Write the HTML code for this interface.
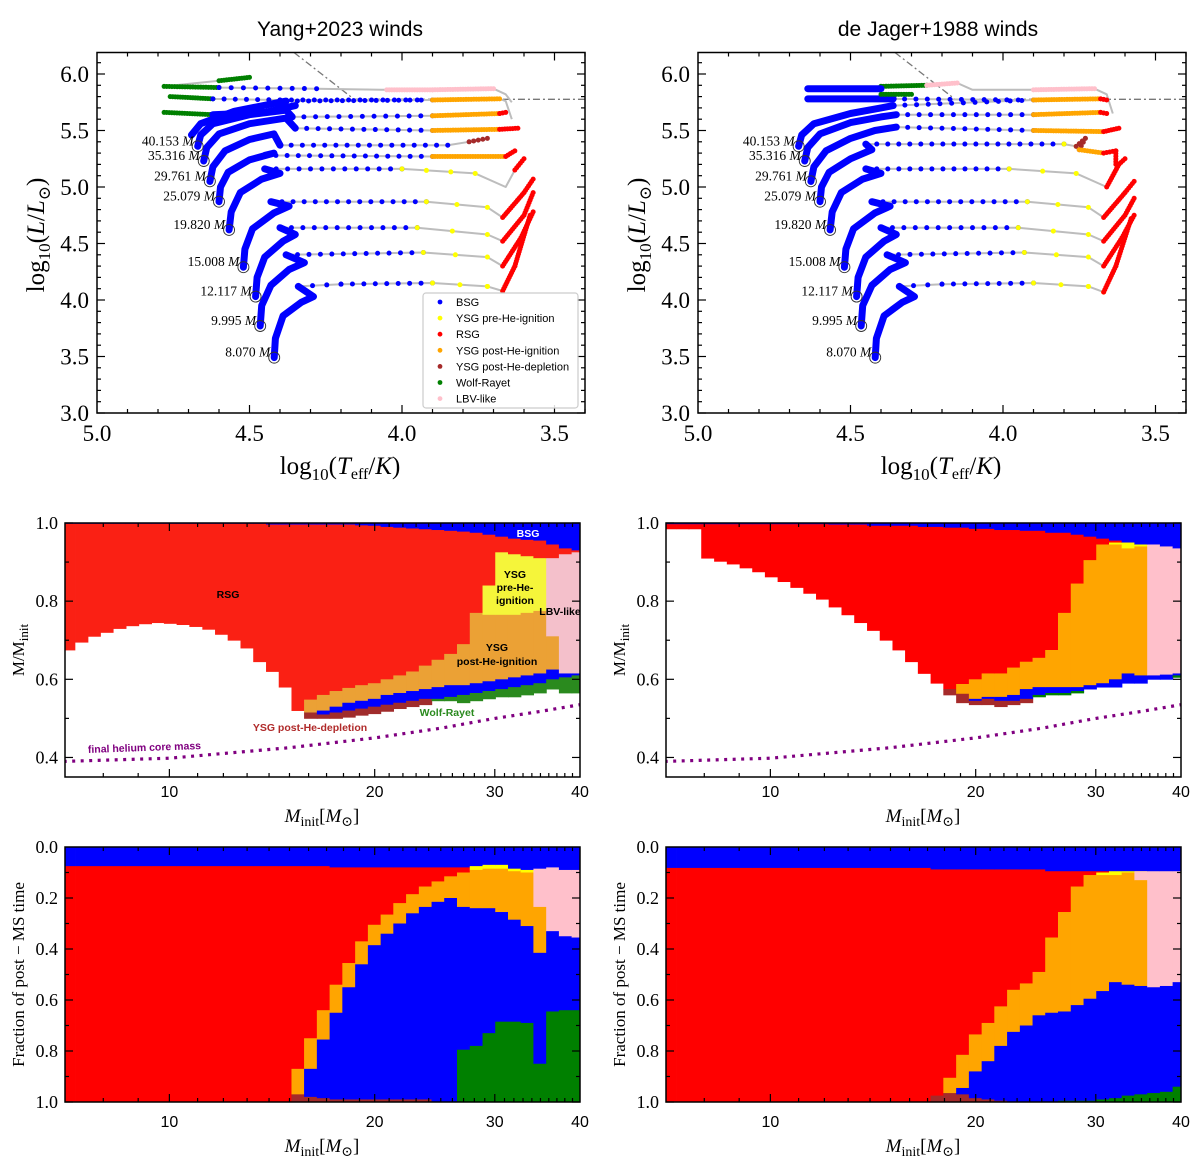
<!DOCTYPE html>
<html><head><meta charset="utf-8"><style>
html,body{margin:0;padding:0;background:#fff;}
svg{display:block;}
</style></head><body>
<svg id="fig" xmlns="http://www.w3.org/2000/svg" width="1200" height="1170" viewBox="0 0 1200 1170">
<rect x="0" y="0" width="1200" height="1170" fill="#fff"/>
<text x="340" y="36" font-family="Liberation Sans, DejaVu Sans, sans-serif" font-size="21" text-anchor="middle">Yang+2023 winds</text>
<text x="938" y="36" font-family="Liberation Sans, DejaVu Sans, sans-serif" font-size="21" text-anchor="middle">de Jager+1988 winds</text>
</svg>
<script>
const N = null;
// ---------- HR diagram data ----------
const zamsLabels = ["8.070","9.995","12.117","15.008","19.820","25.079","29.761","35.316","40.153"];
const yangTracks = [
 [[4.419,3.49,''],[4.415,3.66,'ms'],[4.39,3.86,'ms'],[4.33,3.98,'ms'],[4.29,4.03,'ms'],[4.34,4.12,'ms'],[4.20,4.14,'b'],[3.90,4.15,'b'],[3.72,4.12,'y'],[3.67,4.08,'y'],[3.63,4.30,'r'],[3.58,4.75,'r']],
 [[4.465,3.77,''],[4.46,3.95,'ms'],[4.43,4.13,'ms'],[4.37,4.27,'ms'],[4.32,4.33,'ms'],[4.38,4.40,'ms'],[3.93,4.42,'b'],[3.72,4.38,'y'],[3.67,4.30,'n'],[3.61,4.55,'r'],[3.57,4.78,'r']],
 [[4.48,4.03,''],[4.475,4.20,'ms'],[4.45,4.38,'ms'],[4.39,4.52,'ms'],[4.35,4.58,'ms'],[4.40,4.64,'ms'],[3.95,4.64,'b'],[3.72,4.58,'y'],[3.67,4.52,'n'],[3.60,4.75,'r'],[3.57,4.95,'r']],
 [[4.52,4.29,''],[4.515,4.45,'ms'],[4.49,4.63,'ms'],[4.42,4.77,'ms'],[4.37,4.83,'ms'],[4.43,4.87,'ms'],[3.92,4.87,'b'],[3.72,4.82,'y'],[3.67,4.73,'n'],[3.60,4.95,'r'],[3.57,5.07,'r']],
 [[4.567,4.62,''],[4.56,4.78,'ms'],[4.53,4.95,'ms'],[4.46,5.07,'ms'],[4.40,5.12,'ms'],[4.45,5.16,'ms'],[4.00,5.16,'b'],[3.76,5.12,'y'],[3.66,5.00,'n'],[3.63,5.15,'n'],[3.60,5.25,'r']],
 [[4.60,4.87,''],[4.595,5.00,'ms'],[4.57,5.13,'ms'],[4.50,5.24,'ms'],[4.42,5.30,'ms'],[4.45,5.28,'ms'],[3.90,5.27,'b'],[3.66,5.27,'o'],[3.63,5.32,'r']],
 [[4.63,5.05,''],[4.62,5.18,'ms'],[4.58,5.32,'ms'],[4.50,5.42,'ms'],[4.42,5.47,'ms'],[4.40,5.37,'ms'],[3.85,5.37,'b'],[3.78,5.40,'n'],[3.72,5.43,'w']],
 [[4.65,5.23,''],[4.64,5.35,'ms'],[4.60,5.47,'ms'],[4.50,5.56,'ms'],[4.38,5.61,'ms'],[4.35,5.52,'ms'],[3.90,5.50,'b'],[3.68,5.51,'o'],[3.62,5.52,'r']],
 [[4.67,5.36,''],[4.66,5.46,'ms'],[4.62,5.56,'ms'],[4.50,5.64,'ms'],[4.38,5.68,'ms'],[4.36,5.62,'ms'],[3.90,5.63,'b'],[3.68,5.65,'o'],[3.66,5.66,'r']],
 [[4.69,5.46,''],[4.66,5.56,'ms'],[4.55,5.67,'ms'],[4.38,5.76,'ms'],[3.90,5.77,'b'],[3.68,5.78,'o'],[3.66,5.76,'n'],[3.64,5.60,'n']],
 [[4.78,5.66,''],[4.62,5.64,'g'],[4.45,5.66,'ms'],[4.35,5.72,'ms']],
 [[4.76,5.80,''],[4.62,5.78,'g'],[4.40,5.77,'b'],[3.95,5.77,'b']],
 [[4.78,5.89,''],[4.60,5.88,'g'],[4.28,5.87,'b'],[4.05,5.86,'n'],[3.90,5.86,'p'],[3.70,5.87,'p'],[3.66,5.82,'n'],[3.64,5.75,'n']],
 [[4.78,5.89,''],[4.60,5.94,'n'],[4.50,5.97,'g']]
];
const jagerTracks = [
 [[4.419,3.49,''],[4.415,3.66,'ms'],[4.39,3.86,'ms'],[4.33,3.98,'ms'],[4.29,4.03,'ms'],[4.34,4.12,'ms'],[4.20,4.14,'b'],[3.90,4.15,'b'],[3.72,4.12,'y'],[3.67,4.07,'y'],[3.63,4.30,'r'],[3.58,4.72,'r']],
 [[4.465,3.77,''],[4.46,3.95,'ms'],[4.43,4.13,'ms'],[4.37,4.27,'ms'],[4.32,4.33,'ms'],[4.38,4.40,'ms'],[3.93,4.42,'b'],[3.72,4.38,'y'],[3.67,4.30,'n'],[3.61,4.55,'r'],[3.57,4.75,'r']],
 [[4.48,4.03,''],[4.475,4.20,'ms'],[4.45,4.38,'ms'],[4.39,4.52,'ms'],[4.35,4.58,'ms'],[4.40,4.64,'ms'],[3.95,4.64,'b'],[3.72,4.58,'y'],[3.67,4.52,'n'],[3.60,4.75,'r'],[3.57,4.90,'r']],
 [[4.52,4.29,''],[4.515,4.45,'ms'],[4.49,4.63,'ms'],[4.42,4.77,'ms'],[4.37,4.83,'ms'],[4.43,4.87,'ms'],[3.92,4.87,'b'],[3.72,4.82,'y'],[3.67,4.73,'n'],[3.60,4.95,'r'],[3.57,5.05,'r']],
 [[4.567,4.62,''],[4.56,4.78,'ms'],[4.53,4.95,'ms'],[4.46,5.07,'ms'],[4.40,5.12,'ms'],[4.45,5.16,'ms'],[3.98,5.16,'b'],[3.76,5.12,'y'],[3.66,5.00,'n'],[3.62,5.20,'r'],[3.60,5.25,'r']],
 [[4.60,4.87,''],[4.595,5.00,'ms'],[4.57,5.13,'ms'],[4.50,5.25,'ms'],[4.43,5.33,'ms'],[4.45,5.38,'ms'],[3.80,5.38,'b'],[3.76,5.36,'y'],[3.73,5.43,'w'],[3.75,5.33,'w'],[3.67,5.30,'o'],[3.63,5.32,'r'],[3.63,5.20,'r']],
 [[4.63,5.05,''],[4.62,5.18,'ms'],[4.58,5.32,'ms'],[4.50,5.43,'ms'],[4.42,5.50,'ms'],[4.35,5.53,'ms'],[3.90,5.50,'b'],[3.67,5.49,'o'],[3.62,5.52,'r']],
 [[4.65,5.23,''],[4.64,5.35,'ms'],[4.60,5.47,'ms'],[4.50,5.57,'ms'],[4.40,5.62,'ms'],[4.35,5.64,'ms'],[3.90,5.64,'b'],[3.68,5.66,'o'],[3.66,5.65,'r']],
 [[4.67,5.36,''],[4.66,5.46,'ms'],[4.62,5.56,'ms'],[4.50,5.65,'ms'],[4.40,5.70,'ms'],[4.36,5.72,'ms'],[3.90,5.77,'b'],[3.68,5.78,'o'],[3.66,5.77,'r']],
 [[4.64,5.78,''],[4.36,5.78,'ms'],[3.95,5.77,'b']],
 [[4.64,5.87,''],[4.40,5.87,'ms'],[4.40,5.89,'g'],[4.25,5.90,'g'],[4.15,5.92,'p'],[4.10,5.86,'n'],[3.90,5.86,'n'],[3.70,5.87,'p'],[3.66,5.82,'n'],[3.64,5.65,'n']],
 [[4.40,5.82,''],[4.30,5.82,'g']]
];
const hdLimitT = [4.354, 4.157, 3.40];
const hdLimitL = [6.19, 5.776, 5.776];
const legendLabels = ["BSG","YSG pre-He-ignition","RSG","YSG post-He-ignition","YSG post-He-depletion","Wolf-Rayet","LBV-like"];

// ---------- stacked bars data ----------
const binMass = [7.11,7.43,7.75,8.09,8.45,8.82,9.21,9.61,10.03,10.47,10.93,11.42,11.92,12.44,12.99,13.56,14.16,14.78,15.43,16.10,16.81,17.55,18.32,19.13,19.97,20.85,21.76,22.72,23.72,24.76,25.84,26.98,28.17,29.41,30.70,32.05,33.45,34.92,36.46,38.06,39.73];
const layerNames = ["blue","red","yellow","pink","orange","blue2","green","brown"];
const yM_blue  = [.998,.998,.998,.998,.998,.998,.998,.998,.998,.998,.998,.998,.998,.998,.998,.998,.996,.996,.996,.996,.996,.996,.996,.994,.993,.99,.988,.986,.984,.982,.98,.978,.975,.97,.965,.96,.957,.955,.945,.935,.93];
const yM_red   = [.675,.695,.71,.72,.73,.737,.742,.745,.743,.74,.735,.728,.715,.70,.68,.645,.62,.58,.52,.548,.56,.57,.578,.585,.59,.60,.61,.62,.635,.65,.665,.69,.77,.84,.925,.92,.915,.91,.91,.92,.925];
const yM_yel   = [N,N,N,N,N,N,N,N,N,N,N,N,N,N,N,N,N,N,N,N,N,N,N,N,N,N,N,N,N,N,N,N,N,.765,.765,.765,.77,.775,N,N,N];
const yM_pink  = [N,N,N,N,N,N,N,N,N,N,N,N,N,N,N,N,N,N,N,N,N,N,N,N,N,N,N,N,N,N,N,N,N,N,N,N,N,N,.71,.615,.615];
const yM_orng  = [N,N,N,N,N,N,N,N,N,N,N,N,N,N,N,N,N,N,N,.515,.52,.53,.54,.545,.55,.56,.565,.57,.575,.58,.585,.585,.59,.595,.60,.605,.61,.615,.625,N,N];
const yM_blue2 = [N,N,N,N,N,N,N,N,N,N,N,N,N,N,N,N,N,N,N,.515,.51,.515,.52,.525,.53,.535,.54,.545,.55,.55,.555,.56,.565,.57,.575,.58,.585,.59,.60,.605,.61];
const yM_green = [N,N,N,N,N,N,N,N,N,N,N,N,N,N,N,N,N,N,N,N,N,N,N,N,N,N,N,N,N,.545,.545,.54,.545,.55,.555,.555,.56,.565,.575,.565,.565];
const yM_brown = [N,N,N,N,N,N,N,N,N,N,N,N,N,N,N,N,N,N,N,.50,.50,.50,.503,.508,.512,.518,.525,.53,.535,N,N,N,N,N,N,N,N,N,N,N,N];
const yB_blue  = [.075,.075,.075,.075,.075,.075,.075,.075,.075,.075,.075,.075,.075,.075,.075,.075,.075,.075,.075,.075,.075,.08,.08,.08,.08,.08,.08,.08,.08,.08,.08,.08,.075,.07,.07,.085,.09,.085,.08,.09,.09];
const yB_red   = [1,1,1,1,1,1,1,1,1,1,1,1,1,1,1,1,1,1,.87,.75,.64,.54,.455,.37,.305,.265,.22,.185,.155,.135,.115,.10,N,N,N,N,N,N,N,N,N];
const yB_yel   = [N,N,N,N,N,N,N,N,N,N,N,N,N,N,N,N,N,N,N,N,N,N,N,N,N,N,N,N,N,N,N,N,.09,.085,.085,.095,.10,N,N,N,N];
const yB_pink  = [N,N,N,N,N,N,N,N,N,N,N,N,N,N,N,N,N,N,N,N,N,N,N,N,N,N,N,N,N,N,N,N,N,N,N,N,N,.235,.33,.35,.355];
const yB_orng  = [N,N,N,N,N,N,N,N,N,N,N,N,N,N,N,N,N,N,.97,.87,.755,.65,.55,.46,.385,.34,.30,.26,.235,.215,.20,.235,.24,.24,.255,.285,.31,.415,N,N,N];
const yB_blue2 = [N,N,N,N,N,N,N,N,N,N,N,N,N,N,N,N,N,N,N,.98,.985,.99,.99,.99,.99,.99,.99,.99,.99,1,1,.795,.78,.73,.685,.685,.69,.85,.645,.64,.64];
const yB_green = [N,N,N,N,N,N,N,N,N,N,N,N,N,N,N,N,N,N,N,N,N,N,N,N,N,N,N,N,N,N,N,1,1,1,1,1,1,1,1,1,1];
const yB_brown = [N,N,N,N,N,N,N,N,N,N,N,N,N,N,N,N,N,N,1,1,1,1,1,1,1,1,1,1,1,N,N,N,N,N,N,N,N,N,N,N,N];
const jM_blue  = [.997,.997,.997,.997,.997,.997,.997,.997,.997,.997,.997,.997,.997,.996,.996,.996,.993,.993,.993,.993,.99,.99,.988,.988,.985,.985,.982,.982,.98,.98,.975,.975,.97,.965,.96,.955,.95,.945,.945,.94,.935];
const jM_red   = [.985,.985,.985,.91,.902,.895,.885,.875,.862,.85,.835,.82,.805,.785,.765,.745,.725,.70,.675,.645,.615,.59,.575,.588,.60,.615,.615,.63,.645,.655,.675,.77,.845,.905,.945,.95,.95,.945,N,N,N];
const jM_yel   = [N,N,N,N,N,N,N,N,N,N,N,N,N,N,N,N,N,N,N,N,N,N,N,N,N,N,N,N,N,N,N,N,N,N,N,.945,.935,.94,N,N,N];
const jM_pink  = [N,N,N,N,N,N,N,N,N,N,N,N,N,N,N,N,N,N,N,N,N,N,N,N,N,N,N,N,N,N,N,N,N,N,N,N,N,N,.61,.612,.615];
const jM_orng  = [N,N,N,N,N,N,N,N,N,N,N,N,N,N,N,N,N,N,N,N,N,N,N,.563,.55,.555,.555,.56,.575,.58,.58,.58,.58,.585,.59,.60,.615,.61,N,N,N];
const jM_blue2 = [N,N,N,N,N,N,N,N,N,N,N,N,N,N,N,N,N,N,N,N,N,N,N,N,.545,.55,.545,.545,.55,.56,.565,.565,.57,.575,.58,.58,.59,.59,.60,.60,.61];
const jM_green = [N,N,N,N,N,N,N,N,N,N,N,N,N,N,N,N,N,N,N,N,N,N,N,N,N,N,N,N,N,.555,.56,.56,.565,N,N,N,N,N,N,N,.605];
const jM_brown = [N,N,N,N,N,N,N,N,N,N,N,N,N,N,N,N,N,N,N,N,N,N,.56,.54,.535,.535,.53,.535,.54,N,N,N,N,N,N,N,N,N,N,N,N];
const jB_blue  = [.082,.082,.082,.082,.082,.082,.082,.082,.082,.082,.082,.082,.082,.082,.082,.082,.082,.082,.082,.082,.082,.088,.088,.088,.088,.088,.088,.088,.088,.088,.095,.095,.095,.095,.095,.095,.095,.095,.095,.095,.095];
const jB_red   = [1,1,1,1,1,1,1,1,1,1,1,1,1,1,1,1,1,1,1,1,1,.975,.905,.815,.735,.69,.625,.56,.535,.49,.355,.255,.155,.11,.10,N,N,N,N,N,N];
const jB_yel   = [N,N,N,N,N,N,N,N,N,N,N,N,N,N,N,N,N,N,N,N,N,N,N,N,N,N,N,N,N,N,N,N,N,N,.11,.11,.10,.095,N,N,N];
const jB_pink  = [N,N,N,N,N,N,N,N,N,N,N,N,N,N,N,N,N,N,N,N,N,N,N,N,N,N,N,N,N,N,N,N,N,N,N,N,N,.13,.55,.545,.53];
const jB_orng  = [N,N,N,N,N,N,N,N,N,N,N,N,N,N,N,N,N,N,N,N,N,N,.965,.945,.88,.84,.78,.725,.70,.66,.65,.645,.62,.595,.565,.53,.54,.545,N,N,N];
const jB_blue2 = [N,N,N,N,N,N,N,N,N,N,N,N,N,N,N,N,N,N,N,N,N,N,N,.97,.985,.99,.995,1,1,1,1,.995,.995,.995,.99,.985,.975,.97,.965,.96,.94];
const jB_green = [N,N,N,N,N,N,N,N,N,N,N,N,N,N,N,N,N,N,N,N,N,N,N,N,N,N,N,N,N,N,N,1,1,1,1,1,1,1,1,1,1];
const jB_brown = [N,N,N,N,N,N,N,N,N,N,N,N,N,N,N,N,N,N,N,N,N,1,1,1,1,1,1,N,N,N,N,N,N,N,N,N,N,N,N,N,N];
const coreMass = [7,10,15,20,25,30,35,40];
const coreFrac = [0.39,0.398,0.425,0.45,0.475,0.50,0.518,0.535];

const svg = document.getElementById('fig');
const NS = 'http://www.w3.org/2000/svg';
function el(tag, attrs, parent){ const e=document.createElementNS(NS,tag); for(const k in attrs) e.setAttribute(k,attrs[k]); (parent||svg).appendChild(e); return e; }
const SERIF = 'Liberation Serif, DejaVu Serif, serif';
const SANS = 'Liberation Sans, DejaVu Sans, sans-serif';

function ticks(g, x0,x1,y0,y1, xs, ys){
  for(const t of xs){ const L=t.major?8:4;
    el('line',{x1:t.p,x2:t.p,y1:y1,y2:y1-L,stroke:'#000','stroke-width':1.2},g);
    el('line',{x1:t.p,x2:t.p,y1:y0,y2:y0+L,stroke:'#000','stroke-width':1.2},g); }
  for(const t of ys){ const L=t.major?8:4;
    el('line',{x1:x0,x2:x0+L,y1:t.p,y2:t.p,stroke:'#000','stroke-width':1.2},g);
    el('line',{x1:x1,x2:x1-L,y1:t.p,y2:t.p,stroke:'#000','stroke-width':1.2},g); }
}

const typeColor = {b:'#0000ff',y:'#ffff00',r:'#ff0000',o:'#ffa500',p:'#ffc0cb',g:'#008000',w:'#a52a2a'};
const typeSpacing = {b:11,y:24,r:2.5,o:2.5,p:2.5,g:2.5,w:4};
function hrPanel(off, tracks, name, withLegend){
  const g = el('g',{});
  
  
  const X0=97+off, X1=585+off, Y0=52.5, Y1=413;
  const xT = T => X0 + (5.0 - T)*305;
  const yL = L => Y1 - (L - 3.0)*113;
  const cp = el('clipPath',{id:'cl'+off},g); el('rect',{x:X0,y:Y0,width:X1-X0,height:Y1-Y0},cp);
  const pg = el('g',{'clip-path':'url(#cl'+off+')'},g);
  let d=''; hdLimitT.forEach((t,i)=>{ d+=(i?'L':'M')+xT(t)+' '+yL(hdLimitL[i]); });
  const hd = el('path',{d:d,fill:'none',stroke:'#777','stroke-width':1.3,'stroke-dasharray':'7 3 2 3'},pg);
  
  
  tracks.forEach((tr,k)=>{
    let dd=''; tr.forEach((p,i)=>{ dd+=(i?'L':'M')+xT(p[0]).toFixed(1)+' '+yL(p[1]).toFixed(1); });
    const pl = el('path',{d:dd,fill:'none',stroke:'#bdbdbd','stroke-width':2,'stroke-linejoin':'round'},pg);
    
    
  });
  tracks.forEach((tr,k)=>{
    let msPath='';
    for(let i=1;i<tr.length;i++){
      const a=tr[i-1], b=tr[i], ty=b[2];
      const ax=xT(a[0]), ay=yL(a[1]), bx=xT(b[0]), by=yL(b[1]);
      if(ty==='ms'){
        msPath += (msPath?'':'M'+ax.toFixed(1)+' '+ay.toFixed(1)) + 'L'+bx.toFixed(1)+' '+by.toFixed(1);
      } else if(typeColor[ty]){
        const len=Math.hypot(bx-ax,by-ay), n=Math.max(1,Math.floor(len/typeSpacing[ty]));
        for(let j=0;j<=n;j++){ const t=j/n;
          el('circle',{cx:ax+(bx-ax)*t,cy:ay+(by-ay)*t,r:2.5,fill:typeColor[ty]},pg); }
      }
    }
    if(msPath){
      const mp = el('path',{d:msPath,fill:'none',stroke:'#0000ff','stroke-width':7,'stroke-linecap':'round','stroke-linejoin':'round'},pg);
      
      
    }
  });
  for(let k=0;k<zamsLabels.length;k++){
    const p=tracks[k][0], cx=xT(p[0]), cy=yL(p[1]);
    const c = el('circle',{cx:cx,cy:cy,r:5.5,fill:'none',stroke:'#333','stroke-width':0.9},g);
    
    
    const t = el('text',{x:cx-4,y:cy-1,'font-family':SERIF,'font-size':13.5,'text-anchor':'end'},g);
    
    
    t.textContent = zamsLabels[k]+' ';
    const ts = el('tspan',{'font-style':'italic'},t); ts.textContent='M';
  }
  el('rect',{x:X0,y:Y0,width:X1-X0,height:Y1-Y0,fill:'none',stroke:'#000','stroke-width':1.5},g);
  const xs=[], ys=[];
  for(let v=49; v>=34; v--){ xs.push({p:xT(v/10),major:v%5===0}); }
  for(let v=30; v<=61; v++){ ys.push({p:yL(v/10),major:v%5===0}); }
  ticks(g,X0,X1,Y0,Y1,xs,ys);
  [5.0,4.5,4.0,3.5].forEach(v=>{ const t=el('text',{x:xT(v),y:441,'font-family':SERIF,'font-size':23,'text-anchor':'middle'},g); t.textContent=v.toFixed(1);
      });
  [3.0,3.5,4.0,4.5,5.0,5.5,6.0].forEach(v=>{ const t=el('text',{x:X0-8,y:yL(v)+8,'font-family':SERIF,'font-size':23,'text-anchor':'end'},g); t.textContent=v.toFixed(1);
      });
  const xl = el('text',{x:340+off,y:474,'font-family':SERIF,'font-size':25,'text-anchor':'middle'},g);
   
  xl.innerHTML = 'log<tspan font-size="17" dy="6">10</tspan><tspan dy="-6">(</tspan><tspan font-style="italic">T</tspan><tspan font-size="16" dy="5">eff</tspan><tspan dy="-5">/</tspan><tspan font-style="italic">K</tspan>)';
  const yl = el('text',{x:0,y:0,'font-family':SERIF,'font-size':25,'text-anchor':'middle',transform:'translate('+(44+off)+',235) rotate(-90)'},g);
   
  yl.innerHTML = 'log<tspan font-size="17" dy="6">10</tspan><tspan dy="-6">(</tspan><tspan font-style="italic">L</tspan>/<tspan font-style="italic">L</tspan><tspan font-size="17" dy="6">⊙</tspan><tspan dy="-6">)</tspan>';
  if(withLegend){
    const lg = el('g',{});  
    el('rect',{x:423+off,y:293,width:155,height:115,rx:3,fill:'#fff','fill-opacity':0.85,stroke:'#ccc','stroke-width':1.2},lg);
    const cols=['#0000ff','#ffff00','#ff0000','#ffa500','#a52a2a','#008000','#ffc0cb'];
    legendLabels.forEach((lab,i)=>{
      const y=302+i*16.1;
      const m=el('circle',{cx:440+off,cy:y,r:2.4,fill:cols[i]},lg);
       
      const t=el('text',{x:456+off,y:y+4,'font-family':SANS,'font-size':11},lg); t.textContent=lab;
       
    });
  }
}
hrPanel(0, yangTracks, 'hr-diagram-yang', true);
hrPanel(601, jagerTracks, 'hr-diagram-dejager', false);

const LOGMIN=Math.log10(7.03), LOGMAX=Math.log10(40);
function stackPanel(off, top, bot, vmin, vmax, inverted, layers, cols, name, ylabelHtml, yticksMaj, xlabelY, tickY){
  const g = el('g',{});
  
  
  const X0=65+off, X1=580+off;
  const xm = m => X0 + (Math.log10(m)-LOGMIN)/(LOGMAX-LOGMIN)*(X1-X0);
  const yv = inverted ? (v => top + (v-vmin)/(vmax-vmin)*(bot-top)) : (v => bot - (v-vmin)/(vmax-vmin)*(bot-top));
  const cp = el('clipPath',{id:'cs'+name},g); el('rect',{x:X0,y:top,width:X1-X0,height:bot-top},cp);
  const pg = el('g',{'clip-path':'url(#cs'+name+')'},g);
  binMass.forEach((m,j)=>{
    const xa = xm(m/Math.pow(10,0.00934)), xb = xm(m*Math.pow(10,0.00934));
    let cur = inverted ? 0 : 1;
    layers.forEach((arr,li)=>{
      const v = arr[j];
      if(v===null || v===undefined) return;
      const y1=yv(cur), y2=yv(v);
      const r = el('rect',{x:xa,y:Math.min(y1,y2),width:xb-xa+0.6,height:Math.abs(y2-y1)+0.4,fill:cols[li]},pg);
      
      
      cur = v;
    });
  });
  if(!inverted){
    let d=''; coreMass.forEach((m,i)=>{ d+=(i?'L':'M')+xm(m).toFixed(1)+' '+yv(coreFrac[i]).toFixed(1); });
    const cl = el('path',{d:d,fill:'none',stroke:'#800080','stroke-width':3.2,'stroke-dasharray':'3 5.5'},pg);
    
    
  }
  el('rect',{x:X0,y:top,width:X1-X0,height:bot-top,fill:'none',stroke:'#000','stroke-width':1.5},g);
  const xs=[], ys=[];
  for(let m=8;m<=39;m++) xs.push({p:xm(m),major:m%10===0});
  for(let v=Math.ceil(vmin*10+1e-6); v<=Math.floor(vmax*10+1e-6); v++) ys.push({p:yv(v/10),major:yticksMaj.some(q=>Math.abs(q-v/10)<1e-6)});
  ticks(g,X0,X1,top,bot,xs,ys);
  [10,20,30,40].forEach(m=>{ const t=el('text',{x:xm(m),y:tickY,'font-family':SANS,'font-size':16,'text-anchor':'middle'},g); t.textContent=m;
      });
  yticksMaj.forEach(v=>{ const t=el('text',{x:X0-7,y:yv(v)+6,'font-family':SERIF,'font-size':18,'text-anchor':'end'},g); t.textContent=v.toFixed(1);
      });
  const xl = el('text',{x:322+off,y:xlabelY,'font-family':SERIF,'font-size':19,'text-anchor':'middle'},g);
   
  xl.innerHTML = '<tspan font-style="italic">M</tspan><tspan font-size="14" dy="4">init</tspan><tspan dy="-4">[</tspan><tspan font-style="italic">M</tspan><tspan font-size="14" dy="4">⊙</tspan><tspan dy="-4">]</tspan>';
  const yl = el('text',{x:0,y:0,'font-family':SERIF,'font-size':17,'text-anchor':'middle',transform:'translate('+(24+off)+','+((top+bot)/2)+') rotate(-90)'},g);
   
  yl.innerHTML = ylabelHtml;
  return {xm,yv,g};
}
const colsA=['#0000ff','#fa2014','#f5f53a','#f4c0cb','#eba135','#0000ff','#2a8a1e','#a02c2c'];
const colsB=['#0000ff','#ff0000','#ffff00','#ffc0cb','#ffa500','#0000ff','#008000','#a52a2a'];
const MLAB='M/M<tspan font-size="13" dy="4">init</tspan>';
const FLAB='Fraction  of  post <tspan>− MS time</tspan>';
const pA = stackPanel(0,523,777,0.35,1.0,false,[yM_blue,yM_red,yM_yel,yM_pink,yM_orng,yM_blue2,yM_green,yM_brown],colsA,'mass-fraction-yang',MLAB,[0.4,0.6,0.8,1.0],822,797);
stackPanel(601,523,777,0.35,1.0,false,[jM_blue,jM_red,jM_yel,jM_pink,jM_orng,jM_blue2,jM_green,jM_brown],colsB,'mass-fraction-dejager',MLAB,[0.4,0.6,0.8,1.0],822,797);
stackPanel(0,847,1102,0,1,true,[yB_blue,yB_red,yB_yel,yB_pink,yB_orng,yB_blue2,yB_green,yB_brown],colsB,'time-fraction-yang',FLAB,[0,0.2,0.4,0.6,0.8,1.0],1152,1127);
stackPanel(601,847,1102,0,1,true,[jB_blue,jB_red,jB_yel,jB_pink,jB_orng,jB_blue2,jB_green,jB_brown],colsB,'time-fraction-dejager',FLAB,[0,0.2,0.4,0.6,0.8,1.0],1152,1127);

const notes = [
 ['BSG',528,537,'#fff','middle'],['RSG',228,598,'#000','middle'],
 ['YSG',515,578,'#000','middle'],['pre-He-',515,591,'#000','middle'],['ignition',515,604,'#000','middle'],
 ['LBV-like',560,615,'#000','middle'],
 ['YSG',497,651,'#000','middle'],['post-He-ignition',497,665,'#000','middle'],
 ['Wolf-Rayet',447,716,'#2a8a1e','middle'],['YSG post-He-depletion',310,731,'#b02a2a','middle']
];
notes.forEach(n=>{
  const t=el('text',{x:n[1],y:n[2],'font-family':SANS,'font-size':10.5,'font-weight':'bold',fill:n[3],'text-anchor':n[4]},pA.g);
  
  
  t.textContent=n[0];
});
const hc=el('text',{x:88,y:753,'font-family':SANS,'font-size':10.5,'font-weight':'bold',fill:'#800080',transform:'rotate(-2 88 753)'},pA.g);


hc.textContent='final helium core mass';
</script>
</body></html>
